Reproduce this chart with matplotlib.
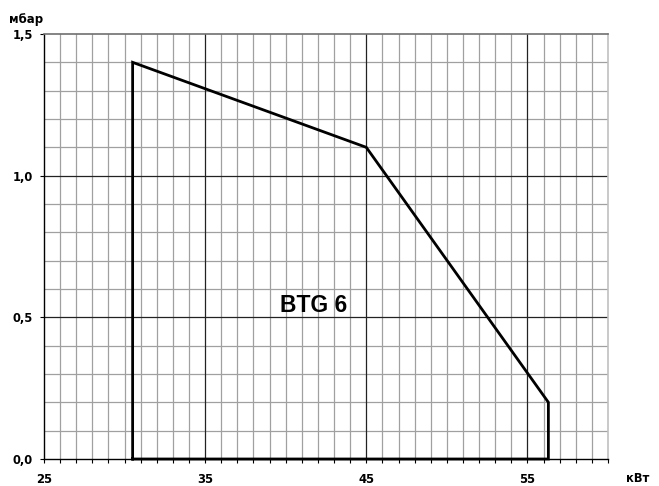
import matplotlib
matplotlib.use("Agg")
import matplotlib.pyplot as plt
import numpy as np

# Data
power_kw = [30.5, 30.5, 45.0, 56.3, 56.3, 30.5]
pressure_mbar = [0.0, 1.4, 1.1, 0.2, 0.0, 0.0]
x_major = [25, 35, 45, 55]
x_major_labels = ["25", "35", "45", "55"]
y_major = [0.0, 0.5, 1.0, 1.5]
y_major_labels = ["0,0", "0,5", "1,0", "1,5"]
label_text = "BTG 6"

plt.rcParams['font.family'] = ['DejaVu Sans']

fig = plt.figure(figsize=(6.59, 4.86), dpi=100)
ax = fig.add_axes([44/659, 1 - 459/486, (608-44)/659, (459-34)/486])
ax.set_xlim(25, 60)
ax.set_ylim(0, 1.5)

# minor grid
for xv in np.arange(26, 60, 1):
    if xv not in x_major:
        ax.axvline(xv, color='#a0a0a0', lw=0.9, zorder=1)
for yv in np.arange(0.1, 1.5, 0.1):
    if not any(abs(yv - m) < 1e-6 for m in y_major):
        ax.axhline(yv, color='#a0a0a0', lw=0.9, zorder=1)
# major grid
for xv in x_major[1:]:
    ax.axvline(xv, color='#222222', lw=0.9, zorder=2)
for yv in y_major[1:-1]:
    ax.axhline(yv, color='#222222', lw=0.9, zorder=2)

ax.plot(power_kw, pressure_mbar, color='black', lw=2.0, zorder=5,
        solid_joinstyle='miter', clip_on=False)

ax.text(39.65, 0.54, label_text, fontsize=16.5, fontweight='bold',
        family=['Liberation Sans', 'DejaVu Sans'],
        ha='left', va='center', zorder=6)

ax.set_xticks(x_major)
ax.set_xticklabels(x_major_labels, fontsize=8.4, fontweight='bold')
ax.set_xticks(np.arange(25, 61, 1), minor=True)
ax.set_yticks(y_major)
ax.set_yticklabels(y_major_labels, fontsize=8.3, fontweight='bold')
ax.tick_params(axis='x', which='major', direction='out', length=3, width=0.8, pad=7)
ax.tick_params(axis='x', which='minor', direction='out', length=3, width=0.8)
ax.tick_params(axis='y', which='major', direction='out', length=3, width=0.8, pad=5)

for s in ['left', 'bottom']:
    ax.spines[s].set_color('black')
    ax.spines[s].set_linewidth(1.0)
ax.spines['top'].set_color('#707070')
ax.spines['top'].set_linewidth(1.2)
ax.spines['right'].set_color('#c0c0c0')
ax.spines['right'].set_linewidth(1.2)

fig.text(9/659, 1 - 19/486, "мбар", fontsize=8.5, fontweight='bold', ha='left', va='center')
fig.text(638/659, 1 - 478/486, "кВт", fontsize=8.3, fontweight='bold', ha='center', va='center')

fig.savefig("out.png", dpi=100)
